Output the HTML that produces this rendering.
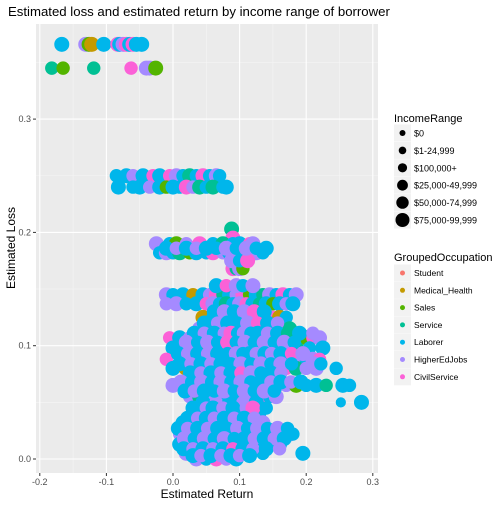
<!DOCTYPE html>
<html><head><meta charset="utf-8"><style>
body{margin:0;background:#fff;font-family:"Liberation Sans",sans-serif}
svg text{font-family:"Liberation Sans",sans-serif}
</style></head><body>
<svg id="chart" width="504" height="504" xmlns="http://www.w3.org/2000/svg">
<rect width="504" height="504" fill="#fff"/>
<text x="8" y="16" font-size="13.2" fill="#000">Estimated loss and estimated return by income range of borrower</text>
<rect x="36" y="24" width="342" height="449" fill="#ebebeb"/>
<g id="grid"></g>
<g id="points"></g>
<g id="axes"></g>
<text x="207" y="498" font-size="12" text-anchor="middle" fill="#000">Estimated Return</text>
<text transform="translate(15,248) rotate(-90)" font-size="12" text-anchor="middle" fill="#000">Estimated Loss</text>
<g id="legend"></g>
</svg>
<script>
const xTicks=[-0.2,-0.1,0,0.1,0.2,0.3];
const xTickLabels=["-0.2","-0.1","0.0","0.1","0.2","0.3"];
const yTicks=[0,0.1,0.2,0.3];
const yTickLabels=["0.0","0.1","0.2","0.3"];
const occupations=["Student","Medical_Health","Sales","Service","Laborer","HigherEdJobs","CivilService"];
const occColors=["#F8766D","#C49A00","#53B400","#00C094","#00B6EB","#A58AFF","#FB61D7"];
const incomes=["$0","$1-24,999","$100,000+","$25,000-49,999","$50,000-74,999","$75,000-99,999"];
const rowLoss=[0.366,0.345,0.25,0.24,0.203,0.195,0.19,0.182,0.168,0.145,0.137,0.125,0.115,0.107,0.098,0.088,0.08,0.072,0.065,0.055,0.05,0.04,0.032,0.022,0.013,0.005,0.0,
0.13,0.12,0.111,0.103,0.093,0.084,0.076,0.068,0.06,0.045,0.036,0.027,0.018,0.009,0.003,0.153,0.175,0.186];
const rowReturns=[
[-0.167,-0.131,-0.126,-0.122,-0.104,-0.083,-0.08,-0.075,-0.07,-0.065,-0.06,-0.055,-0.047],
[-0.182,-0.165,-0.119,-0.063,-0.04,-0.035,-0.026],
[-0.085,-0.07,-0.06,-0.045,-0.03,-0.02,-0.005,0.005,0.015,0.025,0.035,0.045,0.055,0.065,0.07],
[-0.082,-0.06,-0.05,-0.035,-0.02,-0.01,0,0.01,0.02,0.03,0.04,0.05,0.06,0.075,0.08],
[0.088],
[0.09],
[-0.025,-0.005,0.005,0.02,0.04,0.06,0.075,0.09,0.1,0.115,0.12],
[-0.02,-0.01,0.0,0.01,0.025,0.035,0.05,0.06,0.075,0.085,0.095,0.105,0.115,0.125,0.135],
[0.09,0.095,0.1,0.105],
[-0.01,0.0,0.015,0.03,0.045,0.055,0.065,0.075,0.085,0.095,0.105,0.115,0.125,0.135,0.145,0.155,0.165,0.175,0.185],
[-0.01,0.005,0.02,0.035,0.05,0.06,0.07,0.08,0.09,0.1,0.11,0.12,0.13,0.14,0.15,0.16,0.17,0.18],
[0.045,0.06,0.075,0.09,0.1,0.11,0.12,0.13,0.14,0.15,0.16,0.17],
[0.04,0.055,0.07,0.08,0.09,0.1,0.11,0.12,0.13,0.14,0.15,0.16,0.175],
[-0.005,0.01,0.025,0.045,0.06,0.075,0.09,0.105,0.12,0.135,0.15,0.165,0.18,0.2,0.21,0.22],
[0.0,0.015,0.03,0.045,0.06,0.075,0.09,0.1,0.11,0.12,0.13,0.14,0.155,0.17,0.185,0.205,0.225],
[-0.01,0.03,0.045,0.06,0.075,0.09,0.1,0.11,0.12,0.13,0.14,0.155,0.17,0.19,0.2,0.21,0.22],
[0.0,0.018,0.035,0.05,0.065,0.08,0.095,0.11,0.125,0.14,0.155,0.17,0.185,0.2,0.215,0.245],
[0.04,0.055,0.07,0.085,0.1,0.115,0.13,0.145,0.16],
[0.0,0.02,0.035,0.05,0.065,0.08,0.095,0.11,0.125,0.14,0.155,0.17,0.185,0.2,0.215,0.23,0.255,0.265],
[0.025,0.04,0.055,0.07,0.085,0.1,0.115,0.13,0.145,0.155],
[0.045,0.065,0.085,0.105,0.125,0.252,0.283],
[0.04,0.055,0.07,0.085,0.1,0.115,0.13],
[0.015,0.03,0.045,0.06,0.075,0.09,0.105,0.12,0.135],
[0.01,0.025,0.04,0.055,0.07,0.085,0.1,0.115,0.13,0.145,0.16,0.175,0.18],
[0.01,0.025,0.04,0.055,0.07,0.085,0.1,0.115,0.13,0.145,0.16],
[0.02,0.035,0.05,0.065,0.08,0.095,0.11,0.135,0.195],
[0.035,0.05,0.065,0.08,0.095],
[0.062,0.077,0.092,0.107,0.122,0.137],
[0.047,0.067,0.082,0.097,0.112,0.127,0.142,0.157],
[0.032,0.047,0.062,0.077,0.087,0.097,0.107,0.117,0.127,0.142,0.157,0.172,0.19,0.21],
[0.02,0.037,0.052,0.067,0.082,0.095,0.108,0.122,0.137,0.152,0.167,0.182],
[0.008,0.022,0.037,0.052,0.067,0.082,0.095,0.105,0.115,0.125,0.138,0.148,0.162,0.178,0.195],
[0.01,0.027,0.042,0.057,0.072,0.087,0.102,0.117,0.132,0.147,0.162,0.178,0.212,0.222],
[0.026,0.042,0.057,0.072,0.087,0.102,0.117,0.132,0.147,0.162],
[0.012,0.028,0.043,0.058,0.072,0.087,0.102,0.117,0.132,0.147,0.162,0.177,0.192],
[0.018,0.032,0.047,0.062,0.077,0.092,0.107,0.122,0.137,0.152],
[0.03,0.05,0.06,0.075,0.09,0.11,0.12,0.14],
[0.022,0.037,0.05,0.062,0.077,0.092,0.107,0.122],
[0.008,0.022,0.037,0.052,0.067,0.082,0.097,0.112,0.127,0.142,0.157,0.172],
[0.017,0.032,0.047,0.062,0.077,0.092,0.107,0.122,0.137,0.152,0.167],
[0.016,0.03,0.045,0.06,0.075,0.09,0.105,0.12,0.14,0.16],
[0.03,0.042,0.057,0.072,0.087,0.1,0.115],
[0.065,0.08,0.095,0.105,0.12],
[0.088,0.1,0.112],
[-0.01,0.005,0.02,0.035,0.05,0.065,0.08,0.095,0.11,0.125,0.14]
];
const rowOcc=["4521464564644","3236552","445464654346454","444542446534344","3","6","54256434465","454324465434654","6352","5441456345624354645","554465434564342454","146245454614","5341465452443","6454545424365265","4452465145454634","6546545425454545","4155645455463554","4546545354","5536454545452443443","5354645645","4545444","4546454","454654545","5446545645454","4564564545","546454544","54654",
"454564","45445645","4545645445434542","545464545454","454544544545465","45454454545454","4545465445","5454545445454","4544545454","45454564","45454545","454544545454","54545445454","4545464545","4545454","46545","546","45454454544"];
const rowInc=["5555555555555","4444555","454545454545454","545454545454545","5","5","54545454545","454545454545454","5454","5454545454545454545","454545454545454545","545454545454","5454545454545","4545454545454545","5454545454545454","4545454545454545","5454545454545454","454545454","545454545454545454","4545454545","5454525","4545454","545454545","4545454545454","5454545454","545454545","54545",
"5"];
const radii=[3,3.8,4.6,5.4,6.2,7];
const svgNS="http://www.w3.org/2000/svg";
const X0=36,X1=378,Y0=24,Y1=473;
function sx(v){return 173+v*666;}
function sy(v){return 459-v*1133;}
function mk(tag,attrs,parent){const e=document.createElementNS(svgNS,tag);for(const k in attrs)e.setAttribute(k,attrs[k]);parent.appendChild(e);return e;}
const grid=document.getElementById('grid'),axes=document.getElementById('axes'),pts=document.getElementById('points'),leg=document.getElementById('legend');
for(let i=0;i<xTicks.length;i++){const v=xTicks[i]+0.05;const x=sx(v);if(x>X0&&x<X1){const l=mk('line',{x1:x,x2:x,y1:Y0,y2:Y1,stroke:'#f5f5f5','stroke-width':0.6},grid);

}}
for(let i=0;i<yTicks.length;i++){const v=yTicks[i]+0.05;const y=sy(v);if(y>Y0&&y<Y1){const l=mk('line',{x1:X0,x2:X1,y1:y,y2:y,stroke:'#f5f5f5','stroke-width':0.6},grid);

}}
xTicks.forEach((v,i)=>{const x=sx(v);
const l=mk('line',{x1:x,x2:x,y1:Y0,y2:Y1,stroke:'#fff','stroke-width':1.1},grid);


mk('line',{x1:x,x2:x,y1:Y1,y2:Y1+3,stroke:'#333'},axes);
const t=mk('text',{x:x,y:Y1+12,'font-size':9,'text-anchor':'middle',fill:'#4d4d4d'},axes);t.textContent=xTickLabels[i];

});
yTicks.forEach((v,i)=>{const y=sy(v);
const l=mk('line',{x1:X0,x2:X1,y1:y,y2:y,stroke:'#fff','stroke-width':1.1},grid);


mk('line',{x1:X0-3,x2:X0,y1:y,y2:y,stroke:'#333'},axes);
const t=mk('text',{x:X0-5,y:y+3,'font-size':9,'text-anchor':'end',fill:'#4d4d4d'},axes);t.textContent=yTickLabels[i];

});
rowLoss.forEach((loss,r)=>{const xs=rowReturns[r];const occ=rowOcc[r]||"45";const inc=rowInc[r]||"54";xs.forEach((ret,i)=>{
const o=+occ.charAt(i%occ.length);const s=+inc.charAt(i%inc.length);
const c=mk('circle',{cx:sx(ret),cy:sy(loss),r:radii[s]+0.5,fill:occColors[o]},pts);

});});
let t=mk('text',{x:394,y:122,'font-size':11,fill:'#000'},leg);t.textContent='IncomeRange';


incomes.forEach((lab,i)=>{const cy=133+i*17.4;
const g=mk('g',{},leg);


mk('rect',{x:394,y:cy-8.5,width:17,height:17,fill:'#f2f2f2'},g);
mk('circle',{cx:402.5,cy:cy,r:radii[i],fill:'#000'},g);
const tt=mk('text',{x:414,y:cy+3.5,'font-size':9,fill:'#000'},g);tt.textContent=lab;});
t=mk('text',{x:394,y:261,'font-size':11,fill:'#000'},leg);t.textContent='GroupedOccupation';


occupations.forEach((lab,i)=>{const cy=273+i*17.3;
const g=mk('g',{},leg);


mk('rect',{x:394,y:cy-8.5,width:17,height:17,fill:'#f2f2f2'},g);
mk('circle',{cx:402.5,cy:cy,r:2.5,fill:occColors[i]},g);
const tt=mk('text',{x:414,y:cy+3,'font-size':8.5,fill:'#000'},g);tt.textContent=lab;});
</script>
</body></html>
